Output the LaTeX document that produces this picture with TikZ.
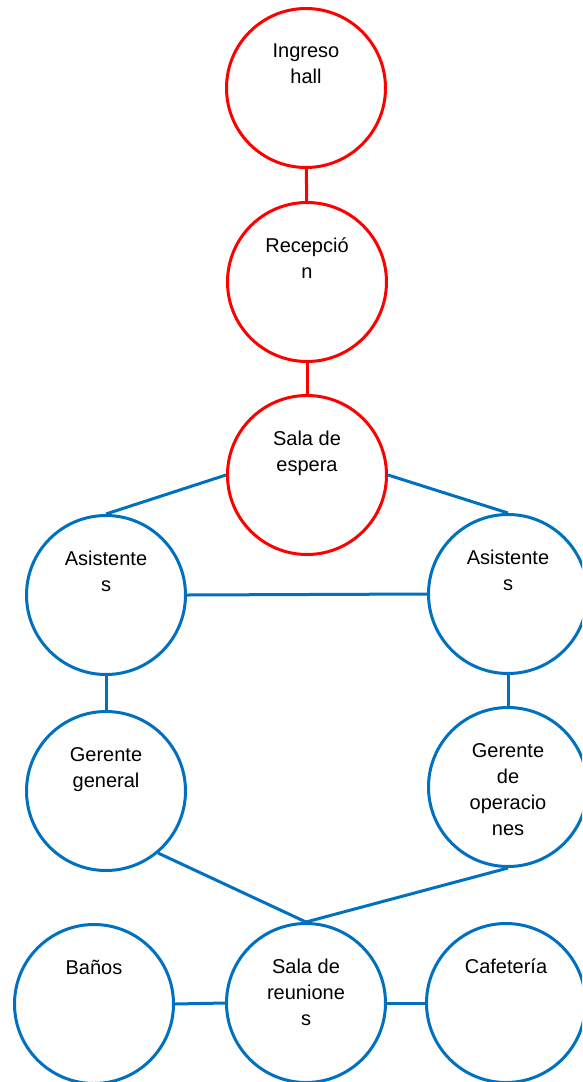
\documentclass[tikz,border=0pt]{standalone}
\usepackage{fontspec}
\setmainfont{Liberation Sans}
\definecolor{roomred}{RGB}{255,0,0}
\definecolor{roomblue}{RGB}{0,112,192}
\begin{document}
\begin{tikzpicture}[x=1pt,y=-1pt,red_node/.style={circle,draw=roomred,line width=3pt,minimum size=159pt,inner sep=0pt},blue_node/.style={circle,draw=roomblue,line width=3pt,minimum size=159pt,inner sep=0pt},name_text/.style={anchor=north,align=center,inner sep=0pt,font=\fontsize{20}{26}\selectfont},red_line/.style={draw=roomred,line width=3pt},blue_line/.style={draw=roomblue,line width=3pt}]
		\useasboundingbox (0,0) rectangle (582,1082);
		\clip (0,0) rectangle (582,1082);

		\node[red_node] (ingreso) at (306,88) {};
		\node[red_node] (recepcion) at (307,282) {};
		\node[red_node] (espera) at (307,475) {};
		\node[blue_node] (asisL) at (106,595) {};
		\node[blue_node] (asisR) at (508,594) {};
		\node[blue_node] (gergen) at (106,791) {};
		\node[blue_node] (gerop) at (508,787) {};
		\node[blue_node] (banos) at (94,1004) {};
		\node[blue_node] (reuniones) at (306,1003) {};
		\node[blue_node] (cafeteria) at (506,1003) {};

		\node[name_text] (ingreso_t) at ([yshift=44pt]ingreso.center) {Ingreso\\hall};
		\node[name_text] (recepcion_t) at ([yshift=44pt]recepcion.center) {Recepció\\n};
		\node[name_text] (espera_t) at ([yshift=44pt]espera.center) {Sala de\\espera};
		\node[name_text] (asisL_t) at ([yshift=44pt]asisL.center) {Asistente\\s};
		\node[name_text] (asisR_t) at ([yshift=44pt]asisR.center) {Asistente\\s};
		\node[name_text] (gergen_t) at ([yshift=44pt]gergen.center) {Gerente\\general};
		\node[name_text] (gerop_t) at ([yshift=44pt]gerop.center) {Gerente\\de\\operacio\\nes};
		\node[name_text] (banos_t) at ([yshift=44pt]banos.center) {Baños};
		\node[name_text] (reuniones_t) at ([yshift=44pt]reuniones.center) {Sala de\\reunione\\s};
		\node[name_text] (cafeteria_t) at ([yshift=44pt]cafeteria.center) {Cafetería};

		\draw[red_line] (ingreso) -- (recepcion);
		\draw[red_line] (recepcion) -- (espera);
		\draw[blue_line] (espera.west) -- (asisL.north);
		\draw[blue_line] (espera.east) -- (asisR.north);
		\draw[blue_line] (asisL.east) -- (asisR.west);
		\draw[blue_line] (asisL.south) -- (gergen.north);
		\draw[blue_line] (asisR.south) -- (gerop.north);
		\draw[blue_line] (gergen.-50) -- (reuniones.north);
		\draw[blue_line] (gerop.south) -- (reuniones.north);
		\draw[blue_line] (banos.east) -- (reuniones.west);
		\draw[blue_line] (reuniones.east) -- (cafeteria.west);
		\end{tikzpicture}
\end{document}
